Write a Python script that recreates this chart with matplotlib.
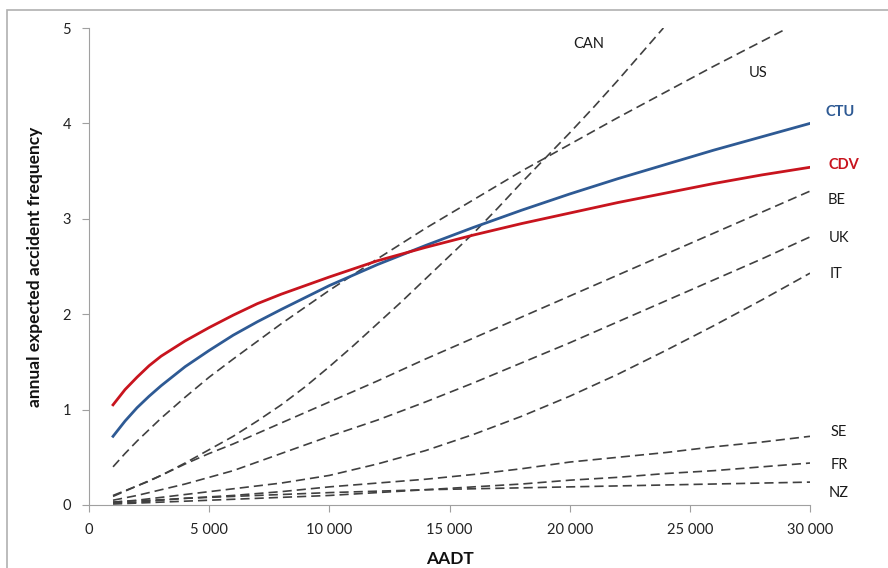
import matplotlib
matplotlib.use("Agg")
import matplotlib.pyplot as plt
from matplotlib.ticker import FuncFormatter, MultipleLocator
from matplotlib.patches import Rectangle

plt.rcParams['font.family'] = ['Lato', 'DejaVu Sans']

# ---- data ----
x_std = [1000, 1500, 2000, 2500, 3000, 4000, 5000, 6000, 7000, 8000, 10000, 12000,
         14000, 16000, 18000, 20000, 22000, 24000, 26000, 28000, 30000]

ctu = [0.72, 0.88, 1.02, 1.14, 1.25, 1.45, 1.62, 1.78, 1.92, 2.05, 2.30, 2.52,
       2.72, 2.91, 3.09, 3.26, 3.42, 3.57, 3.72, 3.86, 4.00]
cdv = [1.05, 1.21, 1.34, 1.46, 1.56, 1.72, 1.86, 1.99, 2.11, 2.21, 2.39, 2.56,
       2.70, 2.83, 2.95, 3.06, 3.17, 3.27, 3.37, 3.46, 3.54]
be = [0.10, 0.15, 0.20, 0.25, 0.31, 0.43, 0.54, 0.64, 0.75, 0.86, 1.08, 1.30,
      1.53, 1.75, 1.97, 2.19, 2.41, 2.63, 2.85, 3.07, 3.29]
uk = [0.05, 0.075, 0.10, 0.13, 0.16, 0.22, 0.29, 0.36, 0.45, 0.54, 0.72, 0.89,
      1.08, 1.28, 1.49, 1.70, 1.92, 2.14, 2.36, 2.58, 2.81]
it = [0.03, 0.04, 0.05, 0.065, 0.08, 0.11, 0.14, 0.17, 0.20, 0.23, 0.31, 0.43,
      0.57, 0.74, 0.93, 1.14, 1.37, 1.62, 1.88, 2.15, 2.43]
se = [0.02, 0.025, 0.03, 0.04, 0.05, 0.07, 0.085, 0.10, 0.12, 0.14, 0.19, 0.23,
      0.27, 0.32, 0.38, 0.45, 0.50, 0.55, 0.61, 0.66, 0.72]
fr = [0.01, 0.015, 0.02, 0.025, 0.03, 0.04, 0.05, 0.06, 0.07, 0.08, 0.10, 0.13,
      0.16, 0.19, 0.22, 0.26, 0.29, 0.33, 0.36, 0.40, 0.44]
nz = [0.03, 0.038, 0.045, 0.05, 0.055, 0.07, 0.08, 0.09, 0.10, 0.11, 0.13, 0.145,
      0.16, 0.17, 0.18, 0.19, 0.20, 0.21, 0.22, 0.23, 0.24]

x_us = [1000, 1500, 2000, 2500, 3000, 4000, 5000, 6000, 8000, 10000, 12000, 14000,
        16000, 18000, 20000, 22000, 24000, 26000, 28000, 29000]
us = [0.40, 0.54, 0.67, 0.79, 0.91, 1.13, 1.34, 1.53, 1.90, 2.25, 2.58, 2.90,
      3.20, 3.50, 3.78, 4.06, 4.33, 4.60, 4.86, 4.99]

x_can = [1000, 2000, 3000, 4000, 5000, 6000, 7000, 8000, 9000, 10000, 11000,
         12000, 13000, 14000, 15000, 16000, 17000, 18000, 19000, 20000, 21000,
         22000, 23900]
can = [0.09, 0.20, 0.31, 0.44, 0.58, 0.72, 0.88, 1.05, 1.24, 1.45, 1.67,
       1.90, 2.13, 2.37, 2.61, 2.85, 3.11, 3.38, 3.64, 3.90, 4.17,
       4.45, 5.00]

# label text, position (x, y) in data units
labels = ["CAN", "US", "CTU", "CDV", "BE", "UK", "IT", "SE", "FR", "NZ"]
label_x = [20800, 27850, 31250, 31400, 31100, 31200, 31100, 31200, 31200, 31200]
label_y = [4.83, 4.53, 4.12, 3.56, 3.20, 2.80, 2.42, 0.76, 0.42, 0.13]

# ---- figure ----
fig = plt.figure(figsize=(8.88, 5.68), dpi=100)
fig.patches.append(Rectangle((7 / 888, -0.05), 1.2, 1 - 10 / 568 + 0.05,
                             transform=fig.transFigure, fill=False,
                             edgecolor='#b0b0b0', linewidth=1.2))
ax = fig.add_axes([89 / 888, 1 - 505 / 568, (810 - 89) / 888, (505 - 28) / 568])

dash_kw = dict(color='#404040', linewidth=1.2, dashes=(5.5, 3))
for xs, ys in [(x_can, can), (x_us, us), (x_std, be), (x_std, uk),
               (x_std, it), (x_std, se), (x_std, fr), (x_std, nz)]:
    ax.plot(xs, ys, **dash_kw)

ax.plot(x_std, ctu, color='#2E5A94', linewidth=2.0)
ax.plot(x_std, cdv, color='#C8141E', linewidth=2.0)

for lab, lx, ly in zip(labels, label_x, label_y):
    if lab == "CTU":
        c, w = '#2E5A94', 'bold'
    elif lab == "CDV":
        c, w = '#C8141E', 'bold'
    else:
        c, w = '#1a1a1a', 'normal'
    ax.text(lx, ly, lab, color=c, fontweight=w, fontsize=10.5,
            ha='center', va='center', clip_on=False)

ax.set_xlim(0, 30000)
ax.set_ylim(0, 5)
ax.xaxis.set_major_locator(MultipleLocator(5000))
ax.yaxis.set_major_locator(MultipleLocator(1))
ax.xaxis.set_major_formatter(FuncFormatter(lambda v, p: f"{int(v):,}".replace(",", " ")))

for s in ['top', 'right']:
    ax.spines[s].set_visible(False)
for s in ['left', 'bottom']:
    ax.spines[s].set_color('#a0a0a0')
ax.tick_params(axis='both', colors='#a0a0a0', length=5, labelsize=10.5,
               labelcolor='#222222', direction='out')
ax.tick_params(axis='x', pad=8)
ax.tick_params(axis='y', pad=8)

ax.set_xlabel("AADT", fontweight='bold', fontsize=12.5, color='#111111', labelpad=10)
ax.set_ylabel("annual expected accident frequency", fontweight='bold',
              fontsize=12.5, color='#111111', labelpad=14)

fig.savefig("out.png", dpi=100)
